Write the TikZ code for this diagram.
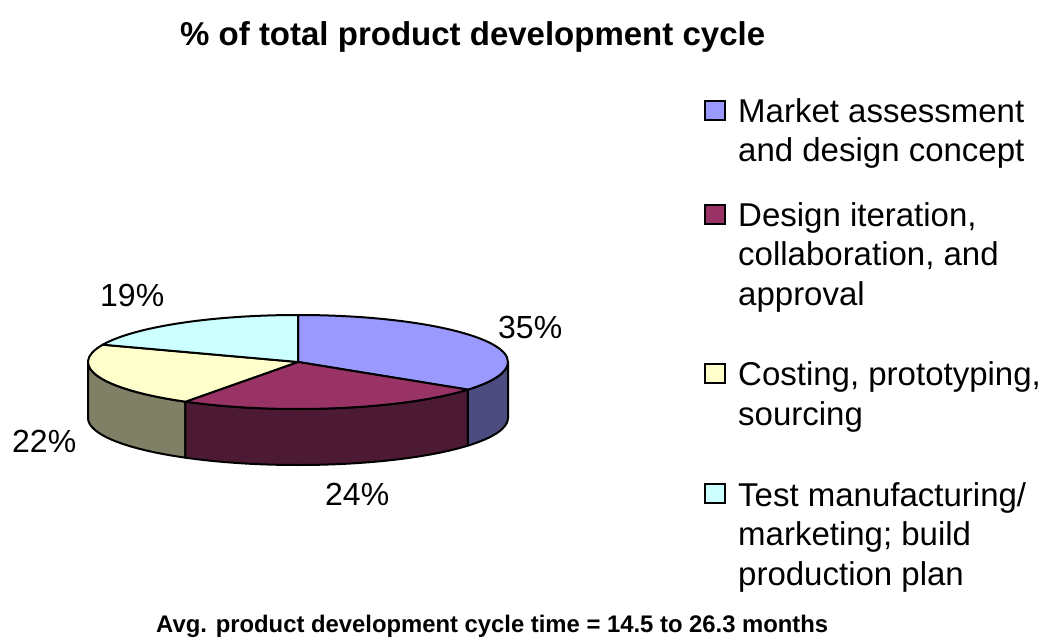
\documentclass[tikz,border=0pt]{standalone}
\usepackage{fontspec}
\setmainfont{Liberation Sans}
\usetikzlibrary{calc}
\definecolor{blueTop}{HTML}{9999FF}
\definecolor{blueSide}{HTML}{4C4C80}
\definecolor{maroonTop}{HTML}{993366}
\definecolor{maroonSide}{HTML}{4D1A33}
\definecolor{yellowTop}{HTML}{FFFFCC}
\definecolor{yellowSide}{HTML}{808066}
\definecolor{cyanTop}{HTML}{CCFFFF}
\tikzset{
  pieedge/.style={draw=black, line width=2pt, line join=round},
  ell/.style={x radius=210, y radius=47},
  pctlabel/.style={anchor=base west, inner sep=0pt, font=\fontsize{32}{38}\selectfont},
  legtext/.style={anchor=base west, inner sep=0pt, align=left, font=\fontsize{33}{39.5}\selectfont},
  legbox/.style={draw=black, line width=2pt, minimum width=20pt, minimum height=19pt, inner sep=0pt},
}
\begin{document}
\begin{tikzpicture}[x=1pt,y=1pt]
\useasboundingbox (0,0) rectangle (1044,641);
\coordinate (C) at (298,279);
% side faces
\filldraw[pieedge, fill=yellowSide] ($(C)+(-180:210 and 47)$) arc[ell, start angle=-180, end angle=-122.4] -- ++(0,-56) arc[ell, start angle=-122.4, end angle=-180] -- cycle;
\filldraw[pieedge, fill=maroonSide] ($(C)+(-122.4:210 and 47)$) arc[ell, start angle=-122.4, end angle=-36] -- ++(0,-56) arc[ell, start angle=-36, end angle=-122.4] -- cycle;
\filldraw[pieedge, fill=blueSide] ($(C)+(-36:210 and 47)$) arc[ell, start angle=-36, end angle=0] -- ++(0,-56) arc[ell, start angle=0, end angle=-36] -- cycle;
% top slices
\filldraw[pieedge, fill=blueTop] (C) -- ++(90:210 and 47) arc[ell, start angle=90, end angle=-36] -- cycle;
\filldraw[pieedge, fill=maroonTop] (C) -- ++(-36:210 and 47) arc[ell, start angle=-36, end angle=-122.4] -- cycle;
\filldraw[pieedge, fill=yellowTop] (C) -- ++(-122.4:210 and 47) arc[ell, start angle=-122.4, end angle=-201.6] -- cycle;
\filldraw[pieedge, fill=cyanTop] (C) -- ++(-201.6:210 and 47) arc[ell, start angle=-201.6, end angle=-270] -- cycle;
% title
\node[anchor=base west, inner sep=0pt, font=\fontsize{33}{40}\selectfont\bfseries] (title) at (180,595) {\% of total product development cycle};
% percentage labels
\node[pctlabel] (p35) at (498,303) {35\%};
\node[pctlabel] (p24) at (325,136) {24\%};
\node[pctlabel] (p22) at (12,188.3) {22\%};
\node[pctlabel] (p19) at (100,334.3) {19\%};
% legend (base anchor = baseline of last line)
\node[legbox, fill=blueTop] (b1) at (715,530) {};
\node[legtext] (l1) at (738,479.3) {Market assessment\\and design concept};
\node[legbox, fill=maroonTop] (b2) at (715,426) {};
\node[legtext] (l2) at (738,336) {Design iteration,\\collaboration, and\\approval};
\node[legbox, fill=yellowTop] (b3) at (715,267.5) {};
\node[legtext] (l3) at (738,216) {Costing, prototyping,\\sourcing};
\node[legbox, fill=cyanTop] (b4) at (715,148) {};
\node[legtext] (l4) at (738,56) {Test manufacturing/\\marketing; build\\production plan};
% footer
\node[anchor=base west, inner sep=0pt, font=\fontsize{24}{30}\selectfont\bfseries] (foot) at (156,9) {\resizebox{672pt}{\height}{Avg. product development cycle time = 14.5 to 26.3 months}};
\end{tikzpicture}
\end{document}
